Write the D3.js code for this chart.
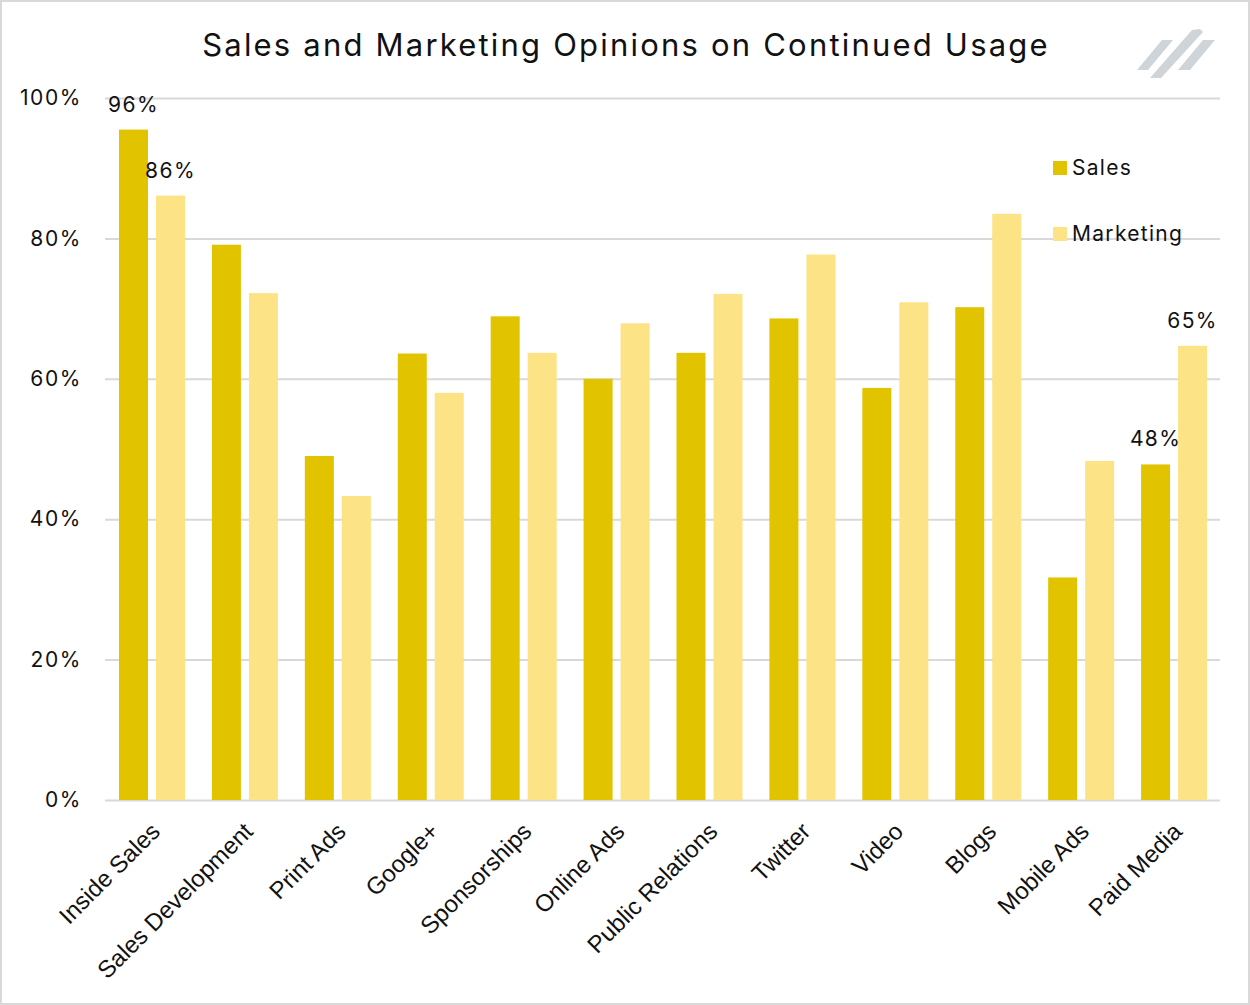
<!DOCTYPE html>
<html>
<head>
  <title>Sales and Marketing Opinions on Continued Usage</title>
  <script src="https://d3js.org/d3.v7.min.js"></script>
  <style>
    html, body { margin:0; padding:0; background:white; }
    svg { display:block; }
  </style>
</head>
<body>
<svg id="chart" width="1250" height="1005"></svg>
<script>
  // data
  var categories = ["Inside Sales", "Sales Development", "Print Ads", "Google+", "Sponsorships",
                    "Online Ads", "Public Relations", "Twitter", "Video", "Blogs", "Mobile Ads", "Paid Media"];
  var salesValues     = [95.5, 79.1, 49.0, 63.6, 68.9, 60.0, 63.7, 68.6, 58.7, 70.2, 31.7, 47.8];
  var marketingValues = [86.1, 72.2, 43.3, 58.0, 63.7, 67.9, 72.1, 77.7, 70.9, 83.5, 48.3, 64.7];
  var yTicks = [0, 20, 40, 60, 80, 100];
  // which bars carry a value label
  var labelled = [
    {series: "sales", cat: "Inside Sales", text: "96%"},
    {series: "marketing", cat: "Inside Sales", text: "86%"},
    {series: "sales", cat: "Paid Media", text: "48%"},
    {series: "marketing", cat: "Paid Media", text: "65%"}
  ];

  var width = 1250, height = 1005;
  var margin = {top: 98, right: 30, bottom: 205, left: 105};
  var salesColor = "#E1C300", marketingColor = "#FCE385";
  var labelFont = "Inter, 'Liberation Sans', sans-serif";

  var svg = d3.select("#chart");

  // outer frame
  svg.append("rect")
    .attr("x", 1).attr("y", 1)
    .attr("width", width - 2).attr("height", height - 2)
    .attr("fill", "white")
    .attr("stroke", "#d9d9d9")
    .attr("stroke-width", 2);

  var x = d3.scaleBand()
    .domain(categories)
    .range([margin.left, width - margin.right]);
  var y = d3.scaleLinear()
    .domain([0, 100])
    .range([height - margin.bottom, margin.top]);

  // gridlines + y labels
  var yAxis = svg.append("g")
    .attr("transform", "translate(" + margin.left + ",0)")
    .call(d3.axisLeft(y).tickValues(yTicks)
      .tickSize(-(width - margin.left - margin.right))
      .tickFormat(function(d) { return d + "%"; }));
  yAxis.select(".domain").remove();
  yAxis.selectAll(".tick line").attr("stroke", "#d9d9d9").attr("stroke-width", 2);
  yAxis.selectAll(".tick text")
    .attr("x", -23)
    .attr("dy", "0.32em")
    .style("font-family", labelFont)
    .style("font-size", "21px")
    .style("letter-spacing", "1.6px")
    .style("fill", "#111");

  var inner = d3.scaleBand()
    .domain(["sales", "marketing"])
    .range([14, 80])
    .paddingInner(0.216);

  var rows = categories.map(function(c, i) {
    return {cat: c, sales: salesValues[i], marketing: marketingValues[i]};
  });

  var groups = svg.append("g").selectAll("g")
    .data(rows)
    .enter().append("g")
    .attr("transform", function(d) { return "translate(" + x(d.cat) + ",0)"; });

  groups.selectAll("rect")
    .data(function(d) { return [{key: "sales", v: d.sales}, {key: "marketing", v: d.marketing}]; })
    .enter().append("rect")
    .attr("x", function(d) { return inner(d.key); })
    .attr("width", inner.bandwidth())
    .attr("y", function(d) { return y(d.v); })
    .attr("height", function(d) { return y(0) - y(d.v); })
    .attr("fill", function(d) { return d.key == "sales" ? salesColor : marketingColor; });

  // value labels
  svg.append("g").selectAll("text")
    .data(labelled)
    .enter().append("text")
    .attr("x", function(d) { return x(d.cat) + inner(d.series) + inner.bandwidth() / 2; })
    .attr("y", function(d) {
      var i = categories.indexOf(d.cat);
      var v = d.series == "sales" ? salesValues[i] : marketingValues[i];
      return y(v) - 18;
    })
    .attr("text-anchor", "middle")
    .style("font-family", labelFont)
    .style("font-size", "21px")
    .style("letter-spacing", "1.4px")
    .style("fill", "#111")
    .text(function(d) { return d.text; });

  // x labels, rotated
  var xAxis = svg.append("g")
    .attr("transform", "translate(0," + (height - margin.bottom) + ")")
    .call(d3.axisBottom(x).tickSize(0));
  xAxis.select(".domain").remove();
  xAxis.selectAll(".tick text")
    .attr("text-anchor", "end")
    .attr("transform", "translate(4,27) rotate(-45)")
    .attr("x", 0).attr("y", 0).attr("dy", "0.35em")
    .style("font-family", "'Liberation Sans', Arial, sans-serif")
    .style("font-size", "24px")
    .style("fill", "#111");

  // title
  svg.append("text")
    .attr("x", 626).attr("y", 56)
    .attr("text-anchor", "middle")
    .style("font-family", labelFont)
    .style("font-size", "31px")
    .style("letter-spacing", "2.2px")
    .style("fill", "#111")
    .text("Sales and Marketing Opinions on Continued Usage");

  // logo stripes
  var logo = svg.append("g").attr("fill", "#cfd4d8");
  logo.append("polygon").attr("points", "1137,70 1162,40 1173,40 1148,70");
  logo.append("polygon").attr("points", "1150,78 1192,30 1200,29 1203,32 1161,78");
  logo.append("polygon").attr("points", "1178,70 1203,40 1215,40 1190,70");

  // legend
  var legend = svg.append("g").selectAll("g")
    .data([{name: "Sales", color: salesColor}, {name: "Marketing", color: marketingColor}])
    .enter().append("g")
    .attr("transform", function(d, i) { return "translate(1053," + (161 + i * 66) + ")"; });
  legend.append("rect").attr("width", 14).attr("height", 14).attr("fill", function(d) { return d.color; });
  legend.append("text")
    .attr("x", 19).attr("y", 14)
    .style("font-family", labelFont)
    .style("font-size", "21px")
    .style("letter-spacing", "1.3px")
    .style("fill", "#111")
    .text(function(d) { return d.name; });
</script>
</body>
</html>
